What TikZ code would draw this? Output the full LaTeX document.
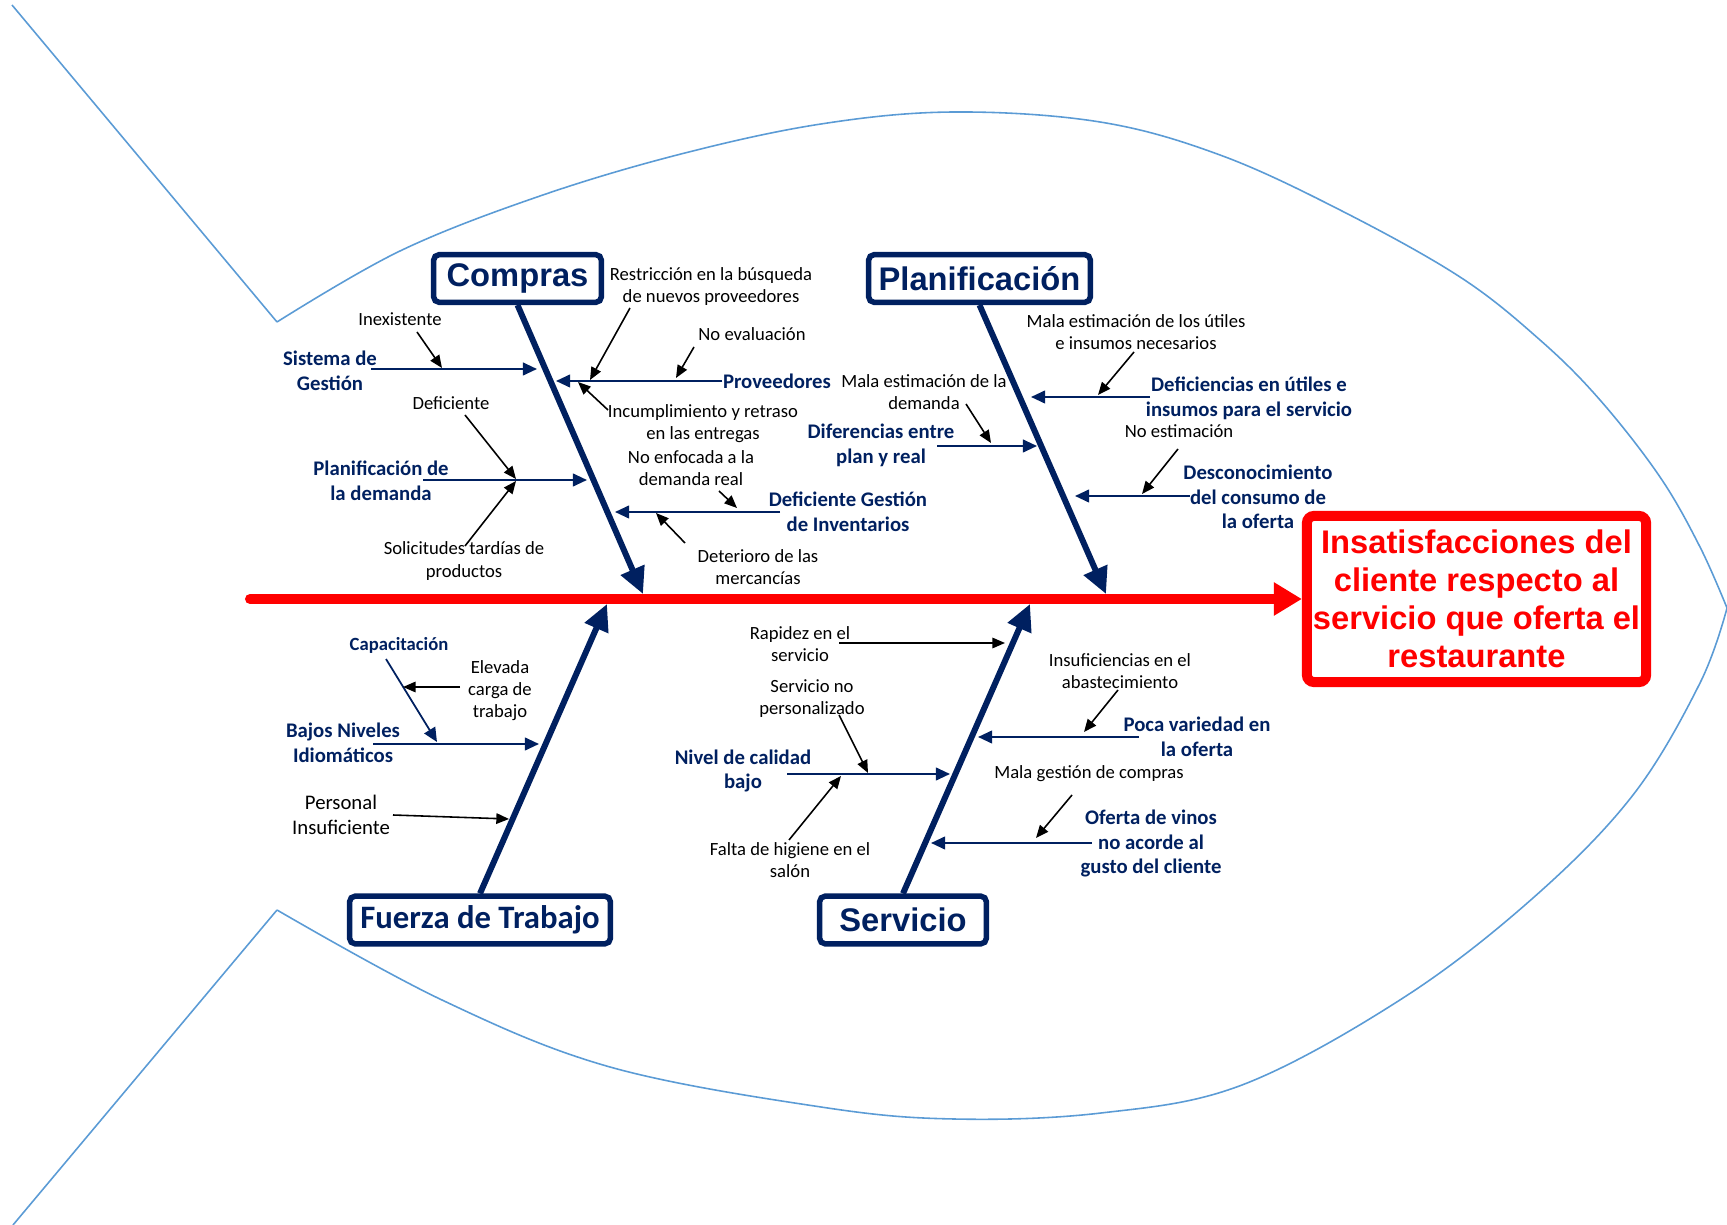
\documentclass[tikz,border=0pt]{standalone}
\usepackage{fontspec}
\setmainfont{Carlito}
\newfontfamily\arialf{Liberation Sans}
\newfontfamily\carl{Carlito}
\usetikzlibrary{arrows.meta}
\definecolor{navy}{RGB}{0,32,96}
\definecolor{fishblue}{RGB}{91,155,213}
\definecolor{effred}{RGB}{255,0,0}
\begin{document}
\begin{tikzpicture}[x=0.01cm,y=-0.01cm,
  small/.style={font=\fontsize{5.3}{6.3}\selectfont, align=center, inner sep=0pt, text=black},
  lab/.style={font=\fontsize{5.9}{7}\selectfont\bfseries, align=center, inner sep=0pt, text=navy},
  catbox/.style={draw=navy, line width=1.56pt, rounded corners=1.5pt, fill=white, inner sep=0pt, minimum height=0.475cm, text=navy, font=\fontsize{9.3}{11}\selectfont\arialf\bfseries},
  bone/.style={draw=navy, line width=1.7pt, -{Triangle[length=7.5pt,width=7pt]}},
  sub/.style={draw=navy, line width=0.6pt, -{Triangle[length=4pt,width=3.6pt]}},
  cause/.style={draw=black, line width=0.45pt, -{Triangle[length=3.6pt,width=3pt]}},
  outline/.style={draw=fishblue, line width=0.45pt}
]
\useasboundingbox (0,0) rectangle (1727,1225);

% fish outline
\draw[outline] (12,5) -- (277,322);
\draw[outline] plot[smooth, tension=0.6] coordinates {(277,322) (400,251) (540,196) (681,154) (821,124) (954,112) (1100,122) (1220,155) (1340,210) (1460,277) (1540,340) (1600,400) (1660,477) (1700,547) (1727,608)};
\draw[outline] plot[smooth, tension=0.6] coordinates {(1727,608) (1700,683) (1633,795) (1533,898) (1403,998) (1242,1085) (1101,1113) (954,1119) (821,1107) (610,1067) (442,1000) (277,910)};
\draw[outline] (277,910) -- (13,1225);

% effect
\node[draw=effred, line width=2.85pt, rounded corners=2pt, minimum width=3.39cm, minimum height=1.66cm, inner sep=0pt, align=center, text=effred, font=\fontsize{9.3}{10.8}\selectfont\arialf\bfseries] (effect) at (1476.5,599) {Insatisfacciones del\\cliente respecto al\\servicio que oferta el\\restaurante};

% categories
\node[catbox, minimum width=1.675cm] (compras) at (517.5,278.5) {Compras};
\node[catbox, minimum width=2.215cm] (planif) at (979.5,278.5) {Planificación};
\node[catbox, minimum width=2.605cm, font=\fontsize{9.3}{11}\selectfont\carl\bfseries] (fuerza) at (480,920) {Fuerza de Trabajo};
\node[catbox, minimum width=1.665cm] (servicio) at (903,920) {Servicio};

% spine
\coordinate (spst) at (250,599);
\draw[effred, line width=2.85pt, line cap=round, -{Triangle[length=8pt,width=9pt]}] (spst) -- (effect.west);

% bones
\coordinate (cT) at (643,594);
\coordinate (pT) at (1106,594);
\coordinate (fT) at (607,604);
\coordinate (sT) at (1030,604);
\draw[bone] (compras.south) -- (cT);
\draw[bone] (planif.south) -- (pT);
\draw[bone] (fuerza.north) -- (fT);
\draw[bone] (servicio.north) -- (sT);

% ---- Compras
\node[small] (t_restr) at (711,286.5) {Restricción en la búsqueda\\de nuevos proveedores};
\coordinate (a1s) at (630,308); \coordinate (a1e) at (590,380);
\draw[cause] (a1s) -- (a1e);
\node[lab] (l_prov) at (777,381) {Proveedores};
\coordinate (provT) at (556,381);
\draw[sub] (l_prov.west) -- (provT);
\node[small] (t_noeval) at (752,334) {No evaluación};
\coordinate (a2s) at (694,347); \coordinate (a2e) at (676,378);
\draw[cause] (a2s) -- (a2e);
\node[small] (t_incump) at (703,423.5) {Incumplimiento y retraso\\en las entregas};
\coordinate (a3s) at (608,410); \coordinate (a3e) at (578,382);
\draw[cause] (a3s) -- (a3e);
\node[lab] (l_sist) at (330,370.5) {Sistema de\\Gestión};
\coordinate (sistS) at (371,369); \coordinate (sistT) at (537,369);
\draw[sub] (sistS) -- (sistT);
\node[small] (t_inex) at (400,319) {Inexistente};
\coordinate (a4s) at (417,332); \coordinate (a4e) at (442,368);
\draw[cause] (a4s) -- (a4e);
\node[lab] (l_plan) at (381,481) {Planificación de\\la demanda};
\coordinate (planS) at (423,480); \coordinate (planT) at (587,480);
\draw[sub] (planS) -- (planT);
\node[small] (t_defi) at (451,403) {Deficiente};
\coordinate (a5s) at (465,415); \coordinate (a5e) at (516,479);
\draw[cause] (a5s) -- (a5e);
\node[small] (t_solic) at (464,561) {Solicitudes tardías de\\productos};
\coordinate (a6s) at (465,546); \coordinate (a6e) at (516,481);
\draw[cause] (a6s) -- (a6e);
\node[lab] (l_inv) at (848,511.5) {Deficiente Gestión\\de Inventarios};
\coordinate (invS) at (780,512); \coordinate (invT) at (615,512);
\draw[sub] (invS) -- (invT);
\node[small] (t_noenf) at (691,468) {No enfocada a la\\demanda real};
\coordinate (a7s) at (719,491); \coordinate (a7e) at (737,508);
\draw[cause] (a7s) -- (a7e);
\node[small] (t_deter) at (758,567) {Deterioro de las\\mercancías};
\coordinate (a8s) at (685,543); \coordinate (a8e) at (656,513);
\draw[cause] (a8s) -- (a8e);

% ---- Planificacion
\node[small] (t_malaut) at (1136,332.5) {Mala estimación de los útiles\\e insumos necesarios};
\coordinate (b1s) at (1134,352); \coordinate (b1e) at (1098,395);
\draw[cause] (b1s) -- (b1e);
\node[lab] (l_defut) at (1249,398.5) {Deficiencias en útiles e\\insumos para el servicio};
\coordinate (defS) at (1150,397); \coordinate (defT) at (1031,397);
\draw[sub] (defS) -- (defT);
\node[small] (t_malad) at (924,392.5) {Mala estimación de la\\demanda};
\coordinate (b2s) at (966,404); \coordinate (b2e) at (991,443);
\draw[cause] (b2s) -- (b2e);
\node[lab] (l_dif) at (881,445.5) {Diferencias entre\\plan y real};
\coordinate (difS) at (937,446); \coordinate (difT) at (1037,446);
\draw[sub] (difS) -- (difT);
\node[small] (t_noest) at (1179,431) {No estimación};
\coordinate (b3s) at (1178,449); \coordinate (b3e) at (1142,494);
\draw[cause] (b3s) -- (b3e);
\node[lab] (l_desc) at (1258,497) {Desconocimiento\\del consumo de\\la oferta};
\coordinate (desS) at (1190,496); \coordinate (desT) at (1075,496);
\draw[sub] (desS) -- (desT);

% ---- Fuerza de Trabajo
\node[lab, font=\fontsize{5.3}{6.3}\selectfont\bfseries] (l_capac) at (399,645) {Capacitación};
\coordinate (capS) at (386,659); \coordinate (capT) at (437,742);
\draw[sub, line width=0.5pt] (capS) -- (capT);
\node[small] (t_elev) at (500,690.5) {Elevada\\carga de\\trabajo};
\coordinate (c1s) at (460,687); \coordinate (c1e) at (403,687);
\draw[cause] (c1s) -- (c1e);
\node[lab] (l_bajos) at (343,743) {Bajos Niveles\\Idiomáticos};
\coordinate (bajS) at (373,744); \coordinate (bajT) at (539,744);
\draw[sub] (bajS) -- (bajT);
\node[small, font=\fontsize{5.9}{7.1}\selectfont] (t_pers) at (341,814.5) {Personal\\Insuficiente};
\coordinate (c2s) at (393,815); \coordinate (c2e) at (509,819);
\draw[cause] (c2s) -- (c2e);

% ---- Servicio
\node[small] (t_rapid) at (800,644) {Rapidez en el\\servicio};
\coordinate (d1s) at (839,643); \coordinate (d1e) at (1005,643);
\draw[cause] (d1s) -- (d1e);
\node[small] (t_insuf) at (1120,671) {Insuficiencias en el\\abastecimiento};
\coordinate (d2s) at (1118,690); \coordinate (d2e) at (1084,732);
\draw[cause] (d2s) -- (d2e);
\node[lab] (l_poca) at (1197,736.5) {Poca variedad en\\la oferta};
\coordinate (pocS) at (1139,737); \coordinate (pocT) at (978,737);
\draw[sub] (pocS) -- (pocT);
\node[small] (t_servno) at (812,699) {Servicio no\\personalizado};
\coordinate (d3s) at (839,715); \coordinate (d3e) at (868,773);
\draw[cause] (d3s) -- (d3e);
\node[lab] (l_nivel) at (743,771) {Nivel de calidad\\bajo};
\coordinate (nivS) at (787,774); \coordinate (nivT) at (950,774);
\draw[sub] (nivS) -- (nivT);
\node[small] (t_falta) at (790,860) {Falta de higiene en el\\salón};
\coordinate (d4s) at (789,840); \coordinate (d4e) at (841,776);
\draw[cause] (d4s) -- (d4e);
\node[small] (t_malag) at (1089,774) {Mala gestión de compras};
\coordinate (d5s) at (1072,795); \coordinate (d5e) at (1036,838);
\draw[cause] (d5s) -- (d5e);
\node[lab] (l_oferta) at (1151,843.7) {Oferta de vinos\\no acorde al\\gusto del cliente};
\coordinate (ofeS) at (1092,843); \coordinate (ofeT) at (931,843);
\draw[sub] (ofeS) -- (ofeT);
\end{tikzpicture}
\end{document}
